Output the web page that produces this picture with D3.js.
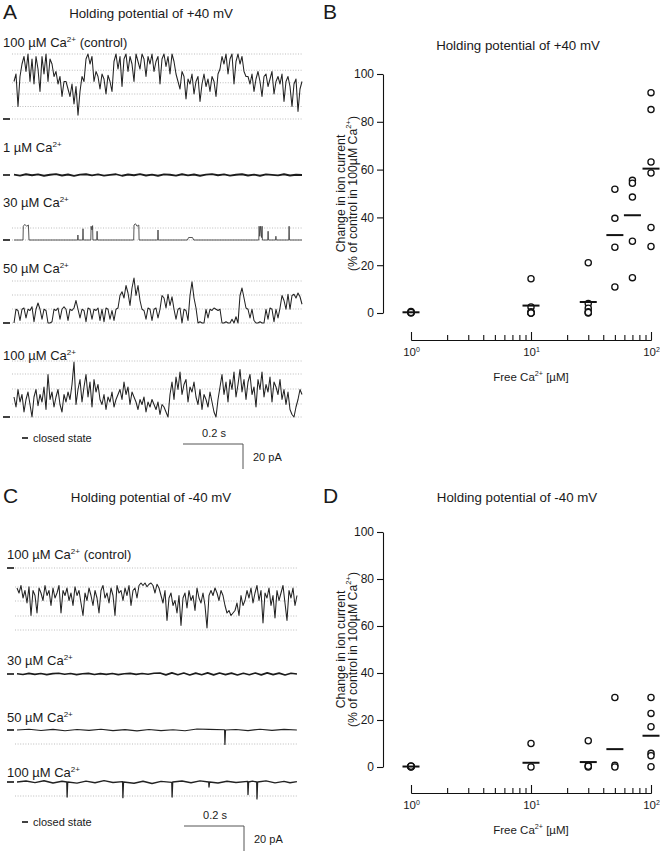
<!DOCTYPE html>
<html><head><meta charset="utf-8">
<script src="https://cdn.jsdelivr.net/npm/d3@7"></script>
<style>
body{margin:0;background:#fff}
svg{display:block}
text{font-family:"Liberation Sans",Arial,sans-serif;fill:#1a1a1a}
</style>
</head><body>
<svg id="c" width="660" height="853"></svg>
<script>
// ---------------- DATA ----------------
// Dose-response (free Ca2+ in µM, change in current in % of control)
const concs = [1, 10, 30, 50, 70, 100];
const pos40Points = [
  [0, 0.3, 0.6, 0.2],
  [14.3, 2.5, 0.5, 0, 0, 0],
  [21, 4, 2, 0.5, 0, 0.2],
  [51.8, 39.6, 27.5, 10.9],
  [55.5, 54.3, 48.5, 30, 14.8],
  [92.2, 85.1, 63.2, 58.6, 35.8, 27.8]
];
const pos40Means = [0.3, 3.1, 4.6, 32.6, 40.9, 60.4];

const concsNeg = [1, 10, 30, 50, 100];
const neg40Points = [
  [0, 0.2, 0.4, 0.1, 0.3],
  [10, 0],
  [11.2, 0.7, 0, 0.3],
  [29.6, 0.7, 0],
  [29.6, 22.8, 17.1, 5.8, 4.8, 0.1]
];
const neg40Means = [0.2, 1.8, 2.1, 7.6, 13.3];

const yTicks = [0, 20, 40, 60, 80, 100];
const xMajorTicks = [1, 10, 100];
const xMinorTicks = [2, 3, 4, 5, 6, 7, 8, 9, 20, 30, 40, 50, 60, 70, 80, 90];

// Single-channel traces (pA relative to closed state), sampled evenly
const traceA1 = [30,36,10,34, 44,50,38,52,30, 48,28,50,40,22, 50,36,52,30,48,44,34,
  38,28,34,18,30, 30,24,18,28,12,26,3,22, 34,30,48,52,44,50,30,
  38,34,24,36,32,20,35,30,22,
  46,52,40,50,26,48,52,38,50,44,30,52,46,40,52,48,34,50,44,52,38,46,50,28,48,52,42,50,36,52,46,
  36,30,24,38,34,16,32,28,36,20,30,34,14,28,36,26,32,22,34,30,18,36,
  40,50,44,52,36,48,52,28,46,52,44,50,38,34,
  34,28,36,22,32,38,30,18,34,36,26,32,38,20,30,34,28,36,14,30,34,26,10,28,32,6,24,30];
const traceA2 = [0.3,-0.5,0.6,-0.2,0.5,-0.6,0.2,0.7,-0.4,0.4,-0.7,0.3,0.6,-0.3,0.5,-0.5,0.1,0.6,-0.6,0.4,
  -0.2,0.7,-0.4,0.3,-0.6,0.5,0.2,-0.5,0.6,-0.3,0.4,-0.6,0.3,0.7,-0.2,0.5,-0.5,0.2,0.6,-0.4,
  0.3,-0.6,0.5,0.1,-0.3,0.6,-0.4,0.2,0];
const traceA3 = [[0,0],[0.03,0],[0.031,11],[0.036,12.5],[0.042,11],[0.048,12],[0.05,0],[0.212,0],[0.213,4],[0.214,0],
  [0.229,0],[0.23,9],[0.231,0],[0.256,0],[0.257,11],[0.26,8],[0.262,11.5],[0.263,0],[0.276,0],[0.277,7],[0.278,0],
  [0.399,0],[0.4,12],[0.405,13],[0.41,11],[0.416,12],[0.417,0],[0.479,0],[0.48,8],[0.481,0],[0.578,0],[0.582,2],
  [0.595,2],[0.599,0],[0.816,0],[0.817,11],[0.819,3],[0.822,11],[0.825,2],[0.827,11],[0.828,0],[0.846,0],[0.847,7],
  [0.848,0],[0.872,0],[0.873,3],[0.874,0],[0.916,0],[0.917,11],[0.918,0],[0.96,0]];
const traceA4 = [0,11,10,2,11,12,4,11,10,13,1,11,16,11,3,11,10,
  0,0,1,
  11,10,12,3,11,13,11,2,11,10,12,18,11,4,11,10,1,12,11,3,11,10,12,2,11,1,12,11,3,10,2,11,12,
  22,25,20,30,24,14,28,36,22,30,18,
  11,10,3,12,11,2,11,12,4,11,
  22,20,12,23,14,21,
  11,3,11,12,0,11,10,2,
  22,33,20,12,
  0,1,0,0,
  11,4,11,10,12,11,10,11,
  0,0,1,0,0,3,0,5,0,
  22,28,20,12,11,
  4,11,2,
  0,0,1,0,0,
  11,3,12,11,1,11,4,12,
  22,18,11,23,
  11,22,23,20,24,21,15];
const traceA5 = [16,8,22,12,18,4,14,20,10,0,16,22,9,18,
  12,24,6,34,14,20,8,16,22,10,4,18,12,20,
  14,26,44,10,22,30,12,24,34,16,28,8,30,20,26,
  14,10,18,6,16,12,20,8,14,18,
  22,14,28,18,24,10,20,16,
  12,6,14,10,16,4,12,8,14,10,6,12,2,10,8,4,0,
  18,28,14,32,22,36,18,26,30,12,24,20,28,
  16,10,22,6,18,14,8,20,12,4,0,
  14,24,34,18,28,12,30,22,36,16,26,38,
  20,30,14,28,34,18,24,8,30,22,36,16,26,20,32,12,28,24,18,30,14,22,10,20,
  6,2,0,8,14,22,18];
const traceC1 = [-16,-20,-14,-24,-18,-28,-15,
  -38,-18,-22,-36,-16,-20,-26,
  -14,-22,-18,-30,-16,-24,-20,-14,-36,-18,-22,-16,-26,-20,-30,-15,-22,-18,-28,-38,
  -20,-26,-16,-22,-30,-18,-24,-36,-18,-14,-24,-20,-28,
  -16,-22,-38,-14,-20,-18,-26,-16,-22,-14,-30,-18,-16,-24,-14,
  -12,-14,-12,-15,-13,-12,-14,-20,-13,-16,
  -22,-28,-18,-42,-24,-20,-30,-26,-36,-22,
  -46,-24,-20,-32,-18,-26,-22,-34,-16,-24,-28,-20,-30,-48,-22,
  -18,-22,-16,-20,-26,-18,-22,
  -30,-36,-34,-38,-36,-34,-28,-38,-22,-30,-26,
  -18,-24,-16,-28,-20,-14,-26,-18,-44,-20,-24,-16,-30,-22,-40,-18,-26,-20,-14,-28,-42,-18,-24,-16,-30,-22];
const traceC2 = [0.2,-0.4,0.5,-0.3,0.4,-0.5,0.3,0.6,-0.2,0.4,-0.5,0.2,0.5,-0.4,0.3,-0.3,0.4,-0.5,0.2,0.5,
  -0.3,0.4,-0.2,0.6,0.8,-0.7,0.9,-0.6,0.8,-0.8,0.7,-0.6,0.9,-0.7,0.8,-0.5,0.7,-0.8,0.6,-0.6,
  0.8,-0.7,0.9,-0.5,0.7,-0.8,0.6,0];
const traceC3 = [[0,0],[0.04,0.6],[0.08,-0.4],[0.12,0.5],[0.16,-0.6],[0.2,0.4],[0.24,-0.3],[0.28,0.6],[0.32,-0.5],
  [0.36,0.3],[0.4,-0.7],[0.44,0.4],[0.48,-0.5],[0.52,0.2],[0.56,-0.6],[0.6,0.8],[0.64,0.5],[0.692,0.2],[0.693,-11.5],
  [0.695,0],[0.73,0.4],[0.77,-0.5],[0.81,0.6],[0.85,-0.3],[0.89,0.5],[0.933,0]];
const traceC4 = [[0,0],[0.03,0.8],[0.06,-0.5],[0.09,1.0],[0.12,-0.8],[0.15,0.6],[0.166,0],[0.167,-12],[0.169,0],
  [0.2,-0.9],[0.23,0.7],[0.26,-0.6],[0.29,1.1],[0.32,-0.4],[0.352,0.3],[0.353,-12.5],[0.355,0],[0.39,-1.0],[0.42,0.6],
  [0.45,-1.2],[0.48,0.5],[0.516,-0.3],[0.517,-12],[0.519,0],[0.55,0.8],[0.58,-0.6],[0.61,0.9],[0.639,0],[0.64,-4],
  [0.642,0],[0.67,-0.8],[0.7,0.6],[0.73,-0.4],[0.769,0.5],[0.77,-10],[0.772,0],[0.785,0.7],[0.799,0],[0.8,-13.5],
  [0.802,0],[0.83,0.9],[0.86,-0.7],[0.89,0.5],[0.91,-0.6],[0.933,0.3]];

const gridA1 = [0, 10, 20, 29, 39, 52];
const gridA3 = [0, 9.6];
const gridA4 = [0, 11.2, 22.4, 33.6];
const gridA5 = [0, 10.4, 22.4, 34.4, 44.8];
const gridC1 = [0, -15.2, -26.4, -38.4, -49.6];
const gridC3 = [-11.2];
const gridC4 = [-11.2];

// ---------------- DRAWING ----------------
const svg = d3.select("#c");
const PX_PER_S = 300, PX_PER_PA = 1.25;

function sup(t, base, supText, size, after) {
  t.append("tspan").text(base);
  t.append("tspan").text(supText).attr("font-size", size * 0.62).attr("dy", -size * 0.42);
  if (after !== undefined) t.append("tspan").text(after).attr("dy", size * 0.42);
}

function caLabel(x, y, conc, suffix) {
  const size = 13;
  const t = svg.append("text").attr("x", x).attr("y", y).attr("font-size", size);
  sup(t, conc + " \u00B5M Ca", "2+", size, suffix ? " " + suffix : undefined);
}

function drawTrace(cfg) {
  const x = d3.scaleLinear().domain([0, cfg.dur]).range([cfg.x0, cfg.x0 + cfg.dur * PX_PER_S]);
  const y = d3.scaleLinear().domain([0, 20]).range([cfg.closedY, cfg.closedY - 20 * PX_PER_PA]);
  svg.append("g").selectAll("line").data(cfg.grid || []).join("line")
    .attr("x1", cfg.x0 - 2).attr("x2", x(cfg.dur))
    .attr("y1", d => y(d)).attr("y2", d => y(d))
    .attr("stroke", "#a0a0a0").attr("stroke-width", 0.7).attr("stroke-dasharray", "1,1.6");
  svg.append("line").attr("x1", cfg.mx).attr("x2", cfg.mx + 7)
    .attr("y1", y(0)).attr("y2", y(0)).attr("stroke", "#111").attr("stroke-width", 1.6);
  const pts = cfg.values
    ? cfg.values.map((v, i) => [i * cfg.dur / (cfg.values.length - 1), v])
    : cfg.points;
  svg.append("path").attr("d", d3.line().x(d => x(d[0])).y(d => y(d[1]))(pts))
    .attr("fill", "none").attr("stroke", cfg.color || "#2a2a2a")
    .attr("stroke-width", cfg.w || 0.8).attr("stroke-linejoin", "round");
  return {x, y};
}

function scaleBar(xs, ys, x0, yTop) {
  const len = xs(0.2) - xs(0);
  const h = ys(0) - ys(20);
  svg.append("path").attr("d", `M${x0},${yTop}H${x0 + len}V${yTop + h}`)
    .attr("fill", "none").attr("stroke", "#555").attr("stroke-width", 1);
  svg.append("text").attr("x", x0 + len / 2 + 1).attr("y", yTop - 7).attr("font-size", 11)
    .attr("text-anchor", "middle").text("0.2 s");
  svg.append("text").attr("x", x0 + len + 10).attr("y", yTop + 17).attr("font-size", 11).text("20 pA");
}

function closedLegend(y) {
  svg.append("line").attr("x1", 22).attr("x2", 28).attr("y1", y).attr("y2", y)
    .attr("stroke", "#111").attr("stroke-width", 1.6);
  svg.append("text").attr("x", 33).attr("y", y + 4).attr("font-size", 11).text("closed state");
}

function panelLetter(x, y, s) {
  svg.append("text").attr("x", x).attr("y", y).attr("font-size", 21).text(s);
}
function title(cx, y, s) {
  svg.append("text").attr("x", cx).attr("y", y).attr("font-size", 13.3)
    .attr("text-anchor", "middle").text(s);
}

// ---- Panel A ----
panelLetter(3, 19, "A");
title(151, 18, "Holding potential of +40 mV");
caLabel(3, 47, "100", "(control)");
const a1 = drawTrace({values: traceA1, dur: 0.96, x0: 14, closedY: 119, grid: gridA1, mx: 3, w: 1.05, color: "#222"});
caLabel(3, 152, "1");
drawTrace({values: traceA2, dur: 0.96, x0: 14, closedY: 175, grid: [], mx: 3, w: 1.8, color: "#1c1c1c"});
caLabel(3, 207, "30");
drawTrace({points: traceA3, dur: 0.96, x0: 14, closedY: 240, grid: gridA3, mx: 3, w: 0.9, color: "#444"});
caLabel(3, 273, "50");
drawTrace({values: traceA4, dur: 0.96, x0: 14, closedY: 323, grid: gridA4, mx: 3, w: 1.05, color: "#222"});
caLabel(3, 360, "100");
drawTrace({values: traceA5, dur: 0.96, x0: 14, closedY: 417, grid: gridA5, mx: 3, w: 1.05, color: "#222"});
closedLegend(438);
scaleBar(a1.x, a1.y, 183, 444);

// ---- Panel C ----
panelLetter(3, 503, "C");
title(151, 502, "Holding potential of -40 mV");
caLabel(7, 559, "100", "(control)");
const c1 = drawTrace({values: traceC1, dur: 0.9333, x0: 17, closedY: 568, grid: gridC1, mx: 7, w: 1.05, color: "#222"});
caLabel(7, 665, "30");
drawTrace({values: traceC2, dur: 0.9333, x0: 17, closedY: 674, grid: [], mx: 7, w: 1.7, color: "#1c1c1c"});
caLabel(7, 722, "50");
drawTrace({points: traceC3, dur: 0.9333, x0: 17, closedY: 730, grid: gridC3, mx: 7, w: 1.2, color: "#222"});
caLabel(7, 777, "100");
drawTrace({points: traceC4, dur: 0.9333, x0: 17, closedY: 782, grid: gridC4, mx: 7, w: 1.3, color: "#222"});
closedLegend(822);
scaleBar(c1.x, c1.y, 184, 826);

// ---- Dose panels ----
function dosePanel(cfg) {
  const x = d3.scaleLog().domain([1, 100]).range([411, 651]);
  const y = d3.scaleLinear().domain([0, 100]).range([cfg.y0, cfg.y100]);
  const gy = svg.append("g").attr("transform", "translate(383,0)")
    .call(d3.axisLeft(y).tickValues(yTicks).tickSize(6).tickSizeOuter(0).tickPadding(3));
  gy.selectAll("text").attr("font-size", 12).attr("font-family", "Liberation Sans, Arial, sans-serif").attr("fill", "#1a1a1a");
  gy.selectAll("path,line").attr("stroke", "#111").attr("stroke-width", 1.1);

  const gMin = svg.append("g").attr("transform", `translate(0,${cfg.ax})`)
    .call(d3.axisBottom(x).tickValues(xMinorTicks).tickSizeInner(-5).tickSizeOuter(0).tickFormat(() => ""));
  gMin.selectAll("path,line").attr("stroke", "#111").attr("stroke-width", 1.1);
  const gMaj = svg.append("g").attr("transform", `translate(0,${cfg.ax})`)
    .call(d3.axisBottom(x).tickValues(xMajorTicks).tickSizeInner(-8).tickSizeOuter(0).tickPadding(8));
  gMaj.selectAll("path,line").attr("stroke", "#111").attr("stroke-width", 1.1);
  gMaj.selectAll(".tick text").each(function (d) {
    const t = d3.select(this);
    t.text("").attr("font-size", 11.5).attr("font-family", "Liberation Sans, Arial, sans-serif").attr("fill", "#1a1a1a");
    t.append("tspan").text("10");
    t.append("tspan").text(Math.round(Math.log10(d))).attr("font-size", 7).attr("dy", -4);
  });

  const xl = svg.append("text").attr("x", x(10)).attr("y", cfg.ax + 41).attr("font-size", 11.5).attr("text-anchor", "middle");
  sup(xl, "Free Ca", "2+", 11.5, " [\u00B5M]");

  const cy = (cfg.y0 + cfg.y100) / 2;
  svg.append("text").attr("transform", `translate(345,${cy}) rotate(-90)`).attr("font-size", 12.3)
    .attr("text-anchor", "middle").text("Change in ion current");
  const l2 = svg.append("text").attr("transform", `translate(356.5,${cy}) rotate(-90)`).attr("font-size", 12.3)
    .attr("text-anchor", "middle");
  sup(l2, "(% of control in 100\u00B5M Ca", "2+", 12.3, ")");

  const flat = [];
  cfg.concs.forEach((c, i) => cfg.points[i].forEach(v => flat.push([c, v])));
  svg.append("g").selectAll("circle").data(flat).join("circle")
    .attr("cx", d => x(d[0])).attr("cy", d => y(d[1])).attr("r", 3.1)
    .attr("fill", "#fff").attr("stroke", "#111").attr("stroke-width", 1.3);
  svg.append("g").selectAll("line").data(cfg.concs.map((c, i) => [c, cfg.means[i]])).join("line")
    .attr("x1", d => x(d[0]) - 8.5).attr("x2", d => x(d[0]) + 8.5)
    .attr("y1", d => y(d[1])).attr("y2", d => y(d[1]))
    .attr("stroke", "#111").attr("stroke-width", 2);
}

panelLetter(323, 19, "B");
title(518, 50, "Holding potential of +40 mV");
dosePanel({y0: 313, y100: 74, ax: 340, concs: concs, points: pos40Points, means: pos40Means});

panelLetter(323, 503, "D");
title(517, 502, "Holding potential of -40 mV");
dosePanel({y0: 767, y100: 532, ax: 793, concs: concsNeg, points: neg40Points, means: neg40Means});
</script>
</body></html>
